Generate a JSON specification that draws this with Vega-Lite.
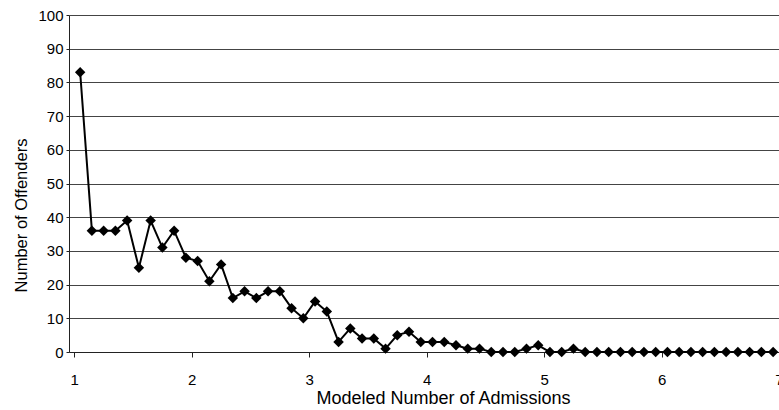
{
  "$schema": "https://vega.github.io/schema/vega-lite/v6.json",
  "autosize": {"type": "none"},
  "padding": {"left": 69, "top": 15, "right": 0, "bottom": 58},
  "width": 710,
  "height": 337,
  "background": "white",
  "config": {
    "view": {"stroke": null},
    "font": "Liberation Sans"
  },
  "data": {
    "values": [
      {"admissions": 1.05, "offenders": 83},
      {"admissions": 1.15, "offenders": 36},
      {"admissions": 1.25, "offenders": 36},
      {"admissions": 1.35, "offenders": 36},
      {"admissions": 1.45, "offenders": 39},
      {"admissions": 1.55, "offenders": 25},
      {"admissions": 1.65, "offenders": 39},
      {"admissions": 1.75, "offenders": 31},
      {"admissions": 1.85, "offenders": 36},
      {"admissions": 1.95, "offenders": 28},
      {"admissions": 2.05, "offenders": 27},
      {"admissions": 2.15, "offenders": 21},
      {"admissions": 2.25, "offenders": 26},
      {"admissions": 2.35, "offenders": 16},
      {"admissions": 2.45, "offenders": 18},
      {"admissions": 2.55, "offenders": 16},
      {"admissions": 2.65, "offenders": 18},
      {"admissions": 2.75, "offenders": 18},
      {"admissions": 2.85, "offenders": 13},
      {"admissions": 2.95, "offenders": 10},
      {"admissions": 3.05, "offenders": 15},
      {"admissions": 3.15, "offenders": 12},
      {"admissions": 3.25, "offenders": 3},
      {"admissions": 3.35, "offenders": 7},
      {"admissions": 3.45, "offenders": 4},
      {"admissions": 3.55, "offenders": 4},
      {"admissions": 3.65, "offenders": 1},
      {"admissions": 3.75, "offenders": 5},
      {"admissions": 3.85, "offenders": 6},
      {"admissions": 3.95, "offenders": 3},
      {"admissions": 4.05, "offenders": 3},
      {"admissions": 4.15, "offenders": 3},
      {"admissions": 4.25, "offenders": 2},
      {"admissions": 4.35, "offenders": 1},
      {"admissions": 4.45, "offenders": 1},
      {"admissions": 4.55, "offenders": 0},
      {"admissions": 4.65, "offenders": 0},
      {"admissions": 4.75, "offenders": 0},
      {"admissions": 4.85, "offenders": 1},
      {"admissions": 4.95, "offenders": 2},
      {"admissions": 5.05, "offenders": 0},
      {"admissions": 5.15, "offenders": 0},
      {"admissions": 5.25, "offenders": 1},
      {"admissions": 5.35, "offenders": 0},
      {"admissions": 5.45, "offenders": 0},
      {"admissions": 5.55, "offenders": 0},
      {"admissions": 5.65, "offenders": 0},
      {"admissions": 5.75, "offenders": 0},
      {"admissions": 5.85, "offenders": 0},
      {"admissions": 5.95, "offenders": 0},
      {"admissions": 6.05, "offenders": 0},
      {"admissions": 6.15, "offenders": 0},
      {"admissions": 6.25, "offenders": 0},
      {"admissions": 6.35, "offenders": 0},
      {"admissions": 6.45, "offenders": 0},
      {"admissions": 6.55, "offenders": 0},
      {"admissions": 6.65, "offenders": 0},
      {"admissions": 6.75, "offenders": 0},
      {"admissions": 6.85, "offenders": 0},
      {"admissions": 6.95, "offenders": 0}
    ]
  },
  "encoding": {
    "x": {
      "field": "admissions",
      "type": "quantitative",
      "scale": {"domain": [0.955, 7], "nice": false, "zero": false},
      "axis": {
        "title": "Modeled Number of Admissions",
        "values": [1, 2, 3, 4, 5, 6, 7],
        "format": "d",
        "grid": false,
        "domainColor": "#222",
        "domainWidth": 1,
        "tickColor": "#222",
        "tickSize": 5,
        "labelFlush": false,
        "labelOverlap": false,
        "labelBound": false,
        "labelFont": "Liberation Sans",
        "labelFontSize": 15,
        "labelColor": "black",
        "labelPadding": 15,
        "titleFont": "Liberation Sans",
        "titleFontSize": 18,
        "titleFontWeight": "normal",
        "titleColor": "black",
        "titleX": 374,
        "titleY": 51,
        "titleBaseline": "alphabetic"
      }
    },
    "y": {
      "field": "offenders",
      "type": "quantitative",
      "scale": {"domain": [0, 100], "nice": false},
      "axis": {
        "title": "Number of Offenders",
        "values": [0, 10, 20, 30, 40, 50, 60, 70, 80, 90, 100],
        "grid": true,
        "gridColor": "#444",
        "gridOpacity": 1,
        "gridWidth": 1,
        "domainColor": "#222",
        "tickColor": "#222",
        "tickSize": 3,
        "labelPadding": 3,
        "labelFont": "Liberation Sans",
        "labelFontSize": 15,
        "labelColor": "black",
        "titleFont": "Liberation Sans",
        "titleFontSize": 16.5,
        "titleFontWeight": "normal",
        "titleColor": "black",
        "titleAngle": -90,
        "titleX": -43,
        "titleY": 200,
        "titleBaseline": "alphabetic",
        "titleAlign": "center"
      }
    }
  },
  "layer": [
    {
      "mark": {"type": "line", "color": "black", "strokeWidth": 2}
    },
    {
      "mark": {"type": "point", "shape": "diamond", "filled": true, "color": "black", "size": 110, "opacity": 1}
    }
  ]
}
